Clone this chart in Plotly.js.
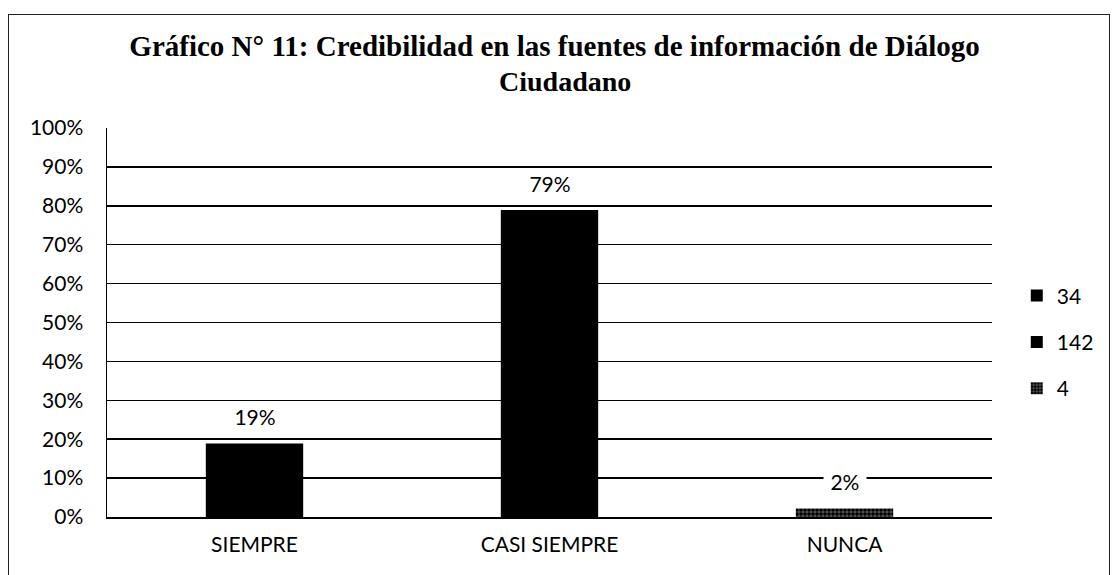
<!DOCTYPE html>
<html>
<head>
<meta charset="utf-8">
<script src="https://cdn.plot.ly/plotly-3.0.1.min.js"></script>
<style>
  html, body { margin: 0; padding: 0; background: #fff; }
  #frame { position: absolute; left: 8px; top: 14px; width: 1102px; height: 570px; border: 1.5px solid #222; box-sizing: border-box; }
  #chart { width: 100%; height: 100%; }
</style>
</head>
<body>
<div id="frame"><div id="chart"></div></div>
<script>
const categories = ["SIEMPRE", "CASI SIEMPRE", "NUNCA"];
const seriesNames = ["34", "142", "4"];
const percentValues = [18.9, 78.9, 2.2];
const labelTexts = ["19%", "79%", "2%"];
const yTickValues = [0, 10, 20, 30, 40, 50, 60, 70, 80, 90, 100];
const yTickLabels = ["0%", "10%", "20%", "30%", "40%", "50%", "60%", "70%", "80%", "90%", "100%"];
const titleLine1 = "Gráfico N° 11: Credibilidad en las fuentes de información de Diálogo";
const titleLine2 = "Ciudadano";

const fontFam = "Lato, 'Open Sans', sans-serif";
const serifFam = "'Liberation Serif', 'Times New Roman', serif";
const colors = ["#000000", "#000000", "#555555"];

const traces = seriesNames.map((name, i) => ({
  type: "bar",
  name: name,
  x: [categories[i]],
  y: [percentValues[i]],
  width: 0.33,
  legendgroup: "g" + i,
  marker: i === 2
    ? { color: "#333333", pattern: { shape: ".", fgcolor: "#000", bgcolor: "#555", size: 4, solidity: 0.6 }, line: { width: 0 } }
    : { color: colors[i], line: { width: 0 } },
  hoverinfo: "skip"
}));

const annotations = categories.map((c, i) => ({
  x: c, y: percentValues[i], xref: "x", yref: "y",
  text: "&nbsp;" + labelTexts[i] + "&nbsp;", showarrow: false,
  yanchor: "bottom", yshift: 12,
  bgcolor: "#ffffff", borderpad: 1,
  font: { family: fontFam, size: 21, color: "#000" }
}));
annotations.push({
  xref: "paper", yref: "paper", x: 0.517, y: 1.1205,
  xanchor: "center", yanchor: "middle", showarrow: false,
  text: "<b>" + titleLine2 + "</b>",
  font: { family: serifFam, size: 28, color: "#000" }
});

const layout = {
  width: 1100, height: 568,
  margin: { l: 97.5, r: 116.5, t: 112.5, b: 65.5, autoexpand: false },
  paper_bgcolor: "#ffffff", plot_bgcolor: "#ffffff",
  barmode: "overlay",
  showlegend: true,
  title: {
    text: "<b>" + titleLine1 + "</b>",
    font: { family: serifFam, size: 29, color: "#000" },
    x: 0.496, xanchor: "center", xref: "container",
    y: 0.946, yanchor: "middle", yref: "container"
  },
  xaxis: {
    type: "category", categoryorder: "array", categoryarray: categories,
    showgrid: false, showline: true, linecolor: "#000", linewidth: 1.5,
    ticks: "", tickfont: { family: fontFam, size: 21, color: "#000" },
    ticklabelstandoff: 8, fixedrange: true
  },
  yaxis: {
    range: [0, 100], tickvals: yTickValues, ticktext: yTickLabels,
    showgrid: true, gridcolor: "#000", gridwidth: 1.5,
    showline: true, linecolor: "#000", linewidth: 1.5, zeroline: false,
    ticks: "", tickfont: { family: fontFam, size: 21, color: "#000" },
    ticklabelstandoff: 18, fixedrange: true
  },
  legend: {
    x: 1.028, xanchor: "left", y: 0.45, yanchor: "middle",
    font: { family: fontFam, size: 21, color: "#000" },
    tracegroupgap: 16, traceorder: "grouped", itemwidth: 30
  },
  annotations: annotations
};

Plotly.newPlot("chart", traces, layout, { displayModeBar: false, staticPlot: true });
</script>
</body>
</html>
